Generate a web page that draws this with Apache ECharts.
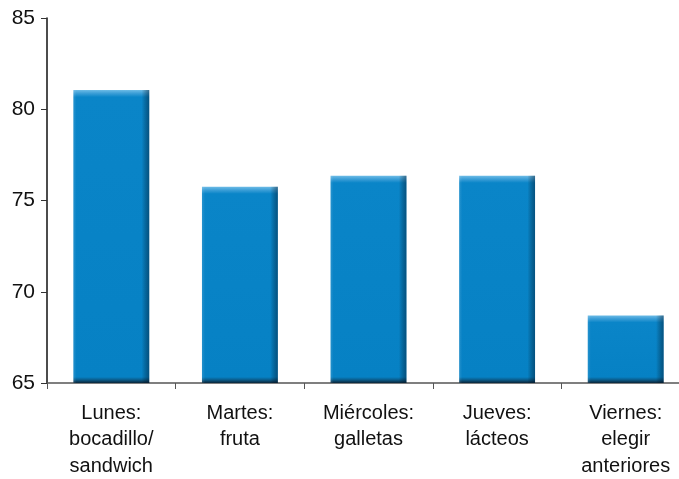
<!DOCTYPE html>
<html><head><meta charset="utf-8">
<script src="https://cdn.jsdelivr.net/npm/echarts@6/dist/echarts.min.js"></script>
<style>html,body{margin:0;padding:0;background:#fff}#c{width:679px;height:479px}</style>
</head><body><div id="c"></div>
<script>
var categories = ['Lunes:\nbocadillo/\nsandwich', 'Martes:\nfruta', 'Miércoles:\ngalletas', 'Jueves:\nlácteos', 'Viernes:\nelegir\nanteriores'];
var values = [81.05, 75.75, 76.35, 76.35, 68.7];
var yTicks = {min: 65, max: 85, interval: 5};
var FONT = '"Liberation Sans", Arial, sans-serif';
var GRID_H = 365;
var pxPerUnit = GRID_H / (yTicks.max - yTicks.min);
function barFill(v) {
  var h = Math.max((v - yTicks.min) * pxPerUnit, 1);
  var f = function (px) { return Math.min(px / h, 1); };
  return new echarts.graphic.LinearGradient(0, 0, 0, 1, [
    {offset: 0, color: '#6cbbe6'},
    {offset: f(3), color: '#3fa0d8'},
    {offset: f(7), color: '#0a85c8'},
    {offset: 1 - f(6), color: '#0681c4'},
    {offset: 1 - f(3), color: '#0b5a88'},
    {offset: 1, color: '#0a2538'}
  ]);
}
var barData = values.map(function (v) { return {value: v, itemStyle: {color: barFill(v)}}; });
var chart = echarts.init(document.getElementById('c'));
chart.setOption({
  animation: false,
  grid: {left: 47, top: 18, width: 643, height: GRID_H, containLabel: false, outerBoundsMode: 'none'},
  xAxis: {
    type: 'category', data: categories,
    axisLine: {lineStyle: {color: '#555', width: 1.5}},
    axisTick: {show: true, length: 6, lineStyle: {color: '#555'}},
    axisLabel: {color: '#111', fontSize: 20, fontFamily: FONT, lineHeight: 26.5, margin: 17, interval: 0}
  },
  yAxis: {
    type: 'value', min: yTicks.min, max: yTicks.max, interval: yTicks.interval,
    splitLine: {show: false},
    axisLine: {show: true, lineStyle: {color: '#111', width: 1.5}},
    axisTick: {show: true, length: 6, lineStyle: {color: '#333'}},
    axisLabel: {color: '#111', fontSize: 21, fontFamily: FONT, margin: 12}
  },
  series: [{
    type: 'bar', data: barData, barWidth: '59%'
  }, {
    type: 'bar', data: values, barWidth: '59%', barGap: '-100%', silent: true,
    itemStyle: {color: new echarts.graphic.LinearGradient(0, 0, 1, 0, [
      {offset: 0, color: 'rgba(255,255,255,0.12)'},
      {offset: 0.04, color: 'rgba(255,255,255,0)'},
      {offset: 0.9, color: 'rgba(0,0,0,0)'},
      {offset: 1, color: 'rgba(0,20,40,0.45)'}
    ])}
  }]
});
</script></body></html>
